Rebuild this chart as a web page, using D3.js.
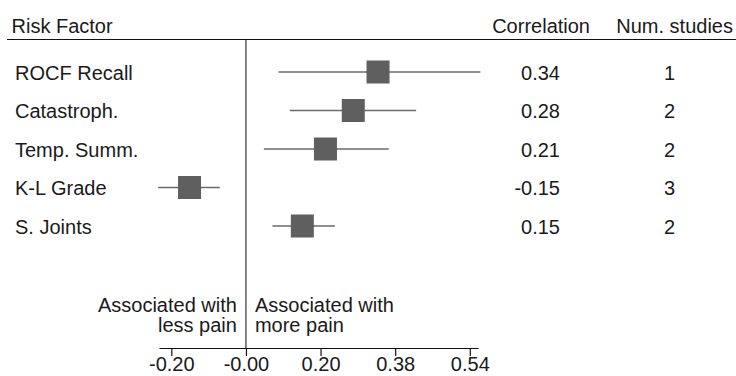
<!DOCTYPE html>
<html>
<head>
<meta charset="utf-8">
<script src="https://cdn.jsdelivr.net/npm/d3@7"></script>
<style>
  body { margin: 0; background: #fff; }
  text { font-family: "Liberation Sans", Arial, Helvetica, sans-serif; fill: #1a1a1a; }
</style>
</head>
<body>
<div id="chart"></div>
<script>
// Risk factors and their pooled correlations (positions use Fisher z)
const factors = ["ROCF Recall", "Catastroph.", "Temp. Summ.", "K-L Grade", "S. Joints"];
const correlation = [0.34, 0.28, 0.21, -0.15, 0.15];
const ciLow = [0.087, 0.117, 0.048, -0.231, 0.071];
const ciHigh = [0.557, 0.427, 0.365, -0.070, 0.234];
const numStudies = [1, 2, 2, 3, 2];
const tickZ = [-0.2, 0, 0.2, 0.4, 0.6];
const tickLabels = ["-0.20", "-0.00", "0.20", "0.38", "0.54"];

const width = 736, height = 376;
const fontSize = 20;

const svg = d3.select("#chart").append("svg")
    .attr("width", width)
    .attr("height", height);

// x scale is in Fisher z units, labelled with r
const x = d3.scaleLinear().domain([-0.233, 0.622]).range([159, 478]);
const y = d3.scalePoint().domain(factors).range([72, 226]);

const rows = factors.map((f, i) => ({
    name: f, r: correlation[i], lo: ciLow[i], hi: ciHigh[i], n: numStudies[i]
}));

// Header
svg.append("text").attr("x", 11.5).attr("y", 33).attr("font-size", fontSize).text("Risk Factor");
svg.append("text").attr("x", 590).attr("y", 33).attr("font-size", fontSize)
    .attr("text-anchor", "end").text("Correlation");
svg.append("text").attr("x", 733).attr("y", 33).attr("font-size", fontSize)
    .attr("text-anchor", "end").text("Num. studies");

svg.append("line")
    .attr("x1", 7).attr("x2", 736)
    .attr("y1", 39.5).attr("y2", 39.5)
    .attr("stroke", "#111").attr("stroke-width", 1.2);

// zero line
svg.append("line")
    .attr("x1", x(0)).attr("x2", x(0))
    .attr("y1", 40).attr("y2", 348)
    .attr("stroke", "#333").attr("stroke-width", 1.2);

// Rows
const g = svg.selectAll("g.row")
    .data(rows)
    .enter()
    .append("g")
    .attr("class", "row");

g.append("text")
    .attr("x", 15)
    .attr("y", d => y(d.name) + 7.5)
    .attr("font-size", fontSize)
    .text(d => d.name);

g.append("line")
    .attr("x1", d => x(Math.atanh(d.lo)))
    .attr("x2", d => x(Math.atanh(d.hi)))
    .attr("y1", d => y(d.name))
    .attr("y2", d => y(d.name))
    .attr("stroke", "#6a6a6a")
    .attr("stroke-width", 1.6);

const sq = 23;
g.append("rect")
    .attr("x", d => x(Math.atanh(d.r)) - sq / 2)
    .attr("y", d => y(d.name) - sq / 2)
    .attr("width", sq)
    .attr("height", sq)
    .attr("fill", "#5f5f5f");

g.append("text")
    .attr("x", 560)
    .attr("y", d => y(d.name) + 7.5)
    .attr("font-size", fontSize)
    .attr("text-anchor", "end")
    .text(d => d.r.toFixed(2));

g.append("text")
    .attr("x", 675)
    .attr("y", d => y(d.name) + 7.5)
    .attr("font-size", fontSize)
    .attr("text-anchor", "end")
    .text(d => d.n);

// Direction labels
const left = svg.append("text").attr("font-size", fontSize).attr("text-anchor", "end");
left.append("tspan").attr("x", x(0) - 9).attr("y", 311.5).text("Associated with");
left.append("tspan").attr("x", x(0) - 9).attr("y", 332).text("less pain");
const right = svg.append("text").attr("font-size", fontSize).attr("text-anchor", "start");
right.append("tspan").attr("x", x(0) + 9).attr("y", 311.5).text("Associated with");
right.append("tspan").attr("x", x(0) + 9).attr("y", 332).text("more pain");

// Axis
const axis = d3.axisBottom(x)
    .tickValues(tickZ)
    .tickFormat((d, i) => tickLabels[i])
    .tickSizeInner(8)
    .tickSizeOuter(0)
    .tickPadding(1);

const ax = svg.append("g")
    .attr("transform", "translate(0,348)")
    .call(axis);
ax.select(".domain").attr("stroke", "#111").attr("stroke-width", 1.2);
ax.selectAll(".tick line").attr("stroke", "#111").attr("stroke-width", 1.2);
ax.selectAll(".tick text")
    .attr("font-size", fontSize)
    .attr("font-family", "Liberation Sans, Arial, sans-serif")
    .attr("fill", "#1a1a1a");
</script>
</body>
</html>
